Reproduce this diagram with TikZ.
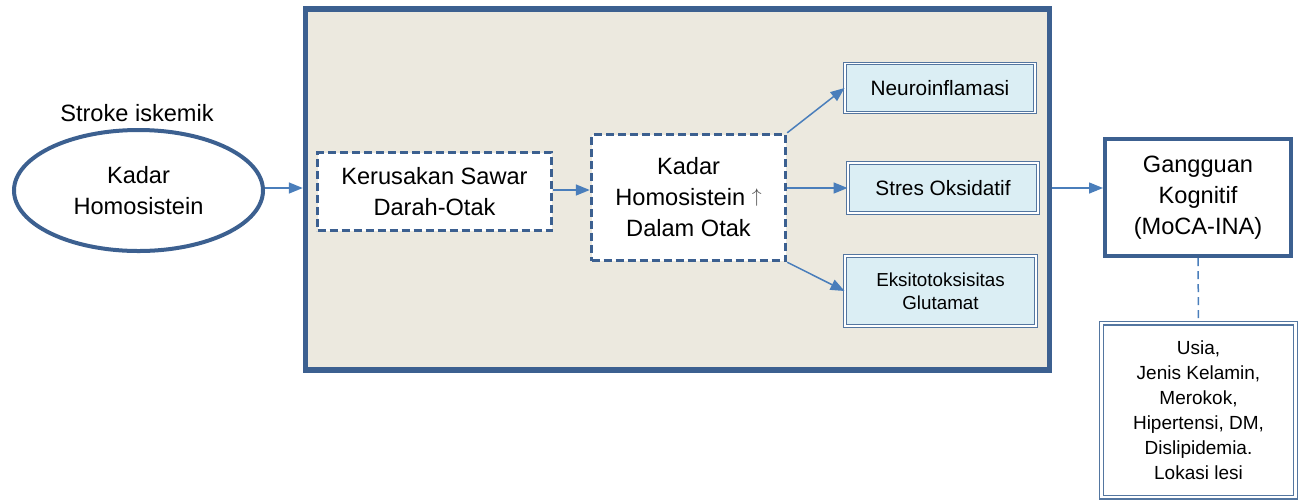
\documentclass[tikz,border=0pt]{standalone}
\usepackage{fontspec}
\setmainfont{Liberation Sans}
\usetikzlibrary{shapes.geometric,arrows.meta}
\definecolor{dkblue}{RGB}{60,96,144}
\definecolor{arrblue}{RGB}{74,126,187}
\definecolor{beige}{RGB}{236,233,223}
\definecolor{ltblue}{RGB}{219,238,244}
\definecolor{bxblue}{RGB}{84,118,160}
\newcommand{\myup}{\raisebox{0.15em}{\scalebox{0.82}{\color{black!70}$\uparrow$}}}
\tikzset{
  mainfont/.style={font=\fontsize{11.8}{15.5}\selectfont},
  arr/.style={draw=arrblue, line width=0.75pt, -{Triangle[length=7pt,width=5.5pt]}},
  dashbox/.style={draw=dkblue, fill=white, line width=1.7pt, dash pattern=on 4pt off 2pt, inner sep=0pt, align=center, mainfont},
  effbox/.style={draw=bxblue, double=white, double distance=0.8pt, line width=0.45pt, fill=ltblue, inner sep=0pt, align=center},
}
\begin{document}
\begin{tikzpicture}[x=0.5pt, y=-0.5pt]
\useasboundingbox (0,0) rectangle (1307,500);
% container
\node[draw=dkblue, fill=beige, line width=2.6pt, minimum width=372pt, minimum height=180.5pt, inner sep=0pt] (cont) at (677.4,189.5) {};
% ellipse
\node[ellipse, draw=dkblue, line width=2pt, fill=white, minimum width=124.5pt, minimum height=60.5pt, inner sep=0pt, align=center, mainfont] (ell) at (138.5,190.5) {Kadar\\Homosistein};
\node[mainfont] (stroke) at (137,113) {Stroke iskemik};
% dashed boxes
\node[dashbox, minimum width=117pt, minimum height=39pt] (ker) at (434.5,191.5) {Kerusakan Sawar\\Darah-Otak};
\node[dashbox, minimum width=97pt, minimum height=63pt] (kad) at (688.5,197.5) {Kadar\\Homosistein \myup\\Dalam Otak};
% effect boxes
\node[effbox, minimum width=95pt, minimum height=24.5pt, font=\fontsize{10.4}{12.5}\selectfont] (neu) at (940,88) {Neuroinflamasi};
\node[effbox, minimum width=95pt, minimum height=25pt, font=\fontsize{10.4}{12.5}\selectfont] (str) at (943,188) {Stres Oksidatif};
\node[effbox, minimum width=95.5pt, minimum height=35pt, font=\fontsize{9.4}{11.5}\selectfont] (eks) at (940.5,291) {Eksitotoksisitas\\Glutamat};
% outcome
\node[draw=dkblue, fill=white, line width=2pt, minimum width=93pt, minimum height=58.5pt, inner sep=0pt, align=center, mainfont] (gan) at (1198,197.5) {Gangguan\\Kognitif\\(MoCA-INA)};
\node[draw=bxblue, double=white, double distance=1.1pt, line width=0.7pt, fill=white, minimum width=97pt, minimum height=87pt, inner sep=0pt, align=center, font=\fontsize{9.5}{12.5}\selectfont] (usi) at (1198.5,410) {Usia,\\Jenis Kelamin,\\Merokok,\\Hipertensi, DM,\\Dislipidemia.\\Lokasi lesi};
% connectors
\draw[arr] (ell.east |- 0,188) -- (cont.west |- 0,188);
\draw[arr] (ker.east |- 0,190) -- (kad.west |- 0,190);
\draw[arr] (kad.north east) -- (neu.west);
\draw[arr] (kad.east |- str.west) -- (str.west);
\draw[arr] (kad.south east) -- (eks.west);
\draw[arr] (cont.east |- str.west) -- (gan.west |- str.west);
\draw[draw=arrblue, line width=0.75pt, dash pattern=on 4pt off 2.5pt] (gan.south) -- (usi.north);
\end{tikzpicture}
\end{document}
